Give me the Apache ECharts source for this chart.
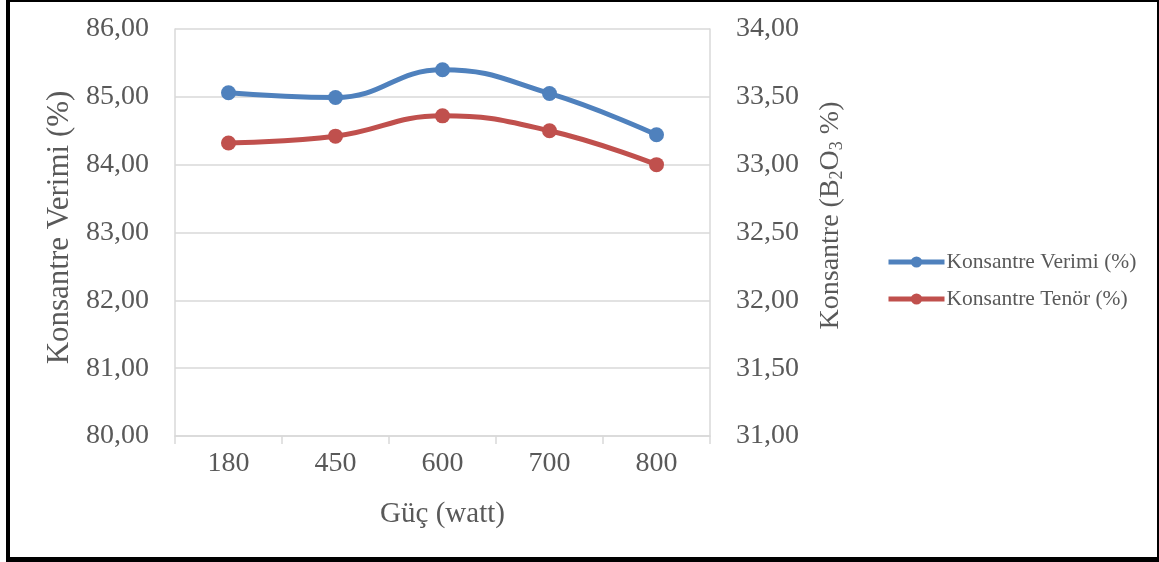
<!DOCTYPE html>
<html>
<head>
<meta charset="utf-8">
<script src="https://cdn.jsdelivr.net/npm/echarts@6/dist/echarts.min.js"></script>
<style>
html,body{margin:0;padding:0;background:#fff;}
#chart{position:absolute;left:0;top:0;width:1159px;height:562px;}
#frame{position:absolute;left:6px;top:0;width:1147px;height:555px;border-left:4px solid #000;border-top:2px solid #000;border-right:2px solid #000;border-bottom:5px solid #000;pointer-events:none;box-sizing:content-box;}
</style>
</head>
<body>
<div id="chart"></div>
<div id="frame"></div>
<script>
const categories = ['180', '450', '600', '700', '800'];
const verimi = [85.06, 84.99, 85.40, 85.05, 84.44];
const tenor = [33.16, 33.21, 33.36, 33.25, 33.00];
const leftTicks = {min: 80, max: 86, interval: 1};
const rightTicks = {min: 31, max: 34, interval: 0.5};

const FONT = '"Liberation Serif", "Times New Roman", serif';
const fmt = v => v.toFixed(2).replace('.', ',');

const chart = echarts.init(document.getElementById('chart'));
chart.setOption({
  animation: false,
  backgroundColor: '#fff',
  textStyle: {fontFamily: FONT},
  grid: {left: 175, right: 449, top: 29, bottom: 126, containLabel: false},
  legend: {
    orient: 'vertical',
    left: 886, top: 251,
    padding: 0,
    itemWidth: 56, itemHeight: 14, itemGap: 15,
    lineStyle: {width: 5},
    textStyle: {fontFamily: FONT, fontSize: 21.5, color: '#595959', padding: [0,0,0,-3]},
    data: ['Konsantre Verimi (%)', 'Konsantre Tenör (%)']
  },
  xAxis: {
    type: 'category',
    data: categories,
    boundaryGap: true,
    axisLine: {lineStyle: {color: '#d9d9d9', width: 1.5}},
    axisTick: {show: true, length: 8, lineStyle: {color: '#d9d9d9', width: 1.5}},
    axisLabel: {fontFamily: FONT, fontSize: 28, color: '#595959', margin: 14},
    name: 'Güç (watt)',
    nameLocation: 'middle',
    nameGap: 64,
    nameTextStyle: {fontFamily: FONT, fontSize: 29, color: '#595959'}
  },
  yAxis: [{
    type: 'value',
    min: leftTicks.min, max: leftTicks.max, interval: leftTicks.interval,
    position: 'left',
    axisLine: {show: true, lineStyle: {color: '#d9d9d9', width: 1.5}},
    axisTick: {show: false},
    splitLine: {lineStyle: {color: '#d9d9d9', width: 1.5}},
    axisLabel: {fontFamily: FONT, fontSize: 28, color: '#595959', margin: 26, formatter: fmt},
    name: 'Konsantre Verimi (%)',
    nameLocation: 'middle',
    nameGap: 100,
    nameRotate: 90,
    nameTextStyle: {fontFamily: FONT, fontSize: 31, color: '#595959', padding: [0, 0, 0, 10]}
  }, {
    type: 'value',
    min: rightTicks.min, max: rightTicks.max, interval: rightTicks.interval,
    position: 'right',
    axisLine: {show: true, lineStyle: {color: '#d9d9d9', width: 1.5}},
    axisTick: {show: false},
    splitLine: {show: false},
    axisLabel: {fontFamily: FONT, fontSize: 28, color: '#595959', margin: 26, formatter: fmt},
    name: 'Konsantre (B{s|2}O{s|3} %)',
    nameLocation: 'middle',
    nameGap: 106,
    nameRotate: 90,
    nameTextStyle: {fontFamily: FONT, fontSize: 28, color: '#595959', padding: [0, 0, 0, 34],
      rich: {s: {fontFamily: FONT, fontSize: 18, color: '#595959', padding: [12, 0, 0, 0]}}}
  }],
  series: [{
    name: 'Konsantre Verimi (%)',
    type: 'line',
    yAxisIndex: 0,
    data: verimi,
    smooth: 0.45,
    symbol: 'circle',
    symbolSize: 15,
    lineStyle: {color: '#4f81bd', width: 5},
    itemStyle: {color: '#4f81bd'}
  }, {
    name: 'Konsantre Tenör (%)',
    type: 'line',
    yAxisIndex: 1,
    data: tenor,
    smooth: 0.45,
    symbol: 'circle',
    symbolSize: 15,
    lineStyle: {color: '#c0504d', width: 5},
    itemStyle: {color: '#c0504d'}
  }]
});
</script>
</body>
</html>
